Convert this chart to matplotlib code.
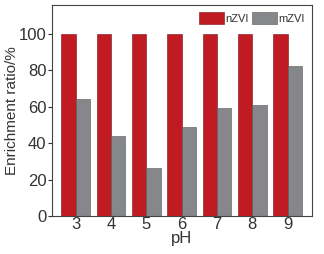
import matplotlib.pyplot as plt
import numpy as np
from matplotlib import font_manager

names = {f.name for f in font_manager.fontManager.ttflist}
fam = 'Liberation Sans Narrow' if 'Liberation Sans Narrow' in names else 'Liberation Sans'
plt.rcParams['font.family'] = [fam, 'DejaVu Sans']

ph = ['3', '4', '5', '6', '7', '8', '9']
nzvi = [100, 100, 100, 100, 100, 100, 100]
mzvi = [64.0, 43.9, 26.5, 48.8, 59.2, 61.1, 82.4]

x = np.arange(len(ph))
w = 0.405

fig = plt.figure(figsize=(3.24, 2.54), dpi=100)
ax = fig.add_axes([52 / 324, 38 / 254, 260 / 324, 211 / 254])
ax.bar(x - w / 2, nzvi, w, color='#c01a22', edgecolor='#7a1015', linewidth=0.4, label='nZVI')
ax.bar(x + w / 2, mzvi, w, color='#86878a', edgecolor='#555555', linewidth=0.4, label='mZVI')

ax.set_xlim(-0.67, 6.69)
ax.set_ylim(0, 115.7)
ax.set_xticks(x)
ax.set_xticklabels(ph)
ax.set_yticks([0, 20, 40, 60, 80, 100])
ax.tick_params(axis='x', length=0, labelsize=12, colors='#333333', pad=1)
ax.tick_params(axis='y', length=3, width=0.8, labelsize=12, colors='#333333', pad=1)
ax.set_xlabel('pH', fontsize=12, color='#333333', labelpad=-1)
ax.set_ylabel('Enrichment ratio/%', fontsize=11, color='#333333')
ax.yaxis.set_label_coords(-0.125, 0.5)
for s in ax.spines.values():
    s.set_color('#444444')
    s.set_linewidth(0.8)

ax.legend(loc='upper right', ncol=2, frameon=False, fontsize=8, handlelength=2.2,
          handleheight=1.3, handletextpad=0.15, columnspacing=0.3,
          borderaxespad=0.25, labelcolor='#333333')

plt.savefig('out.png', dpi=100)
